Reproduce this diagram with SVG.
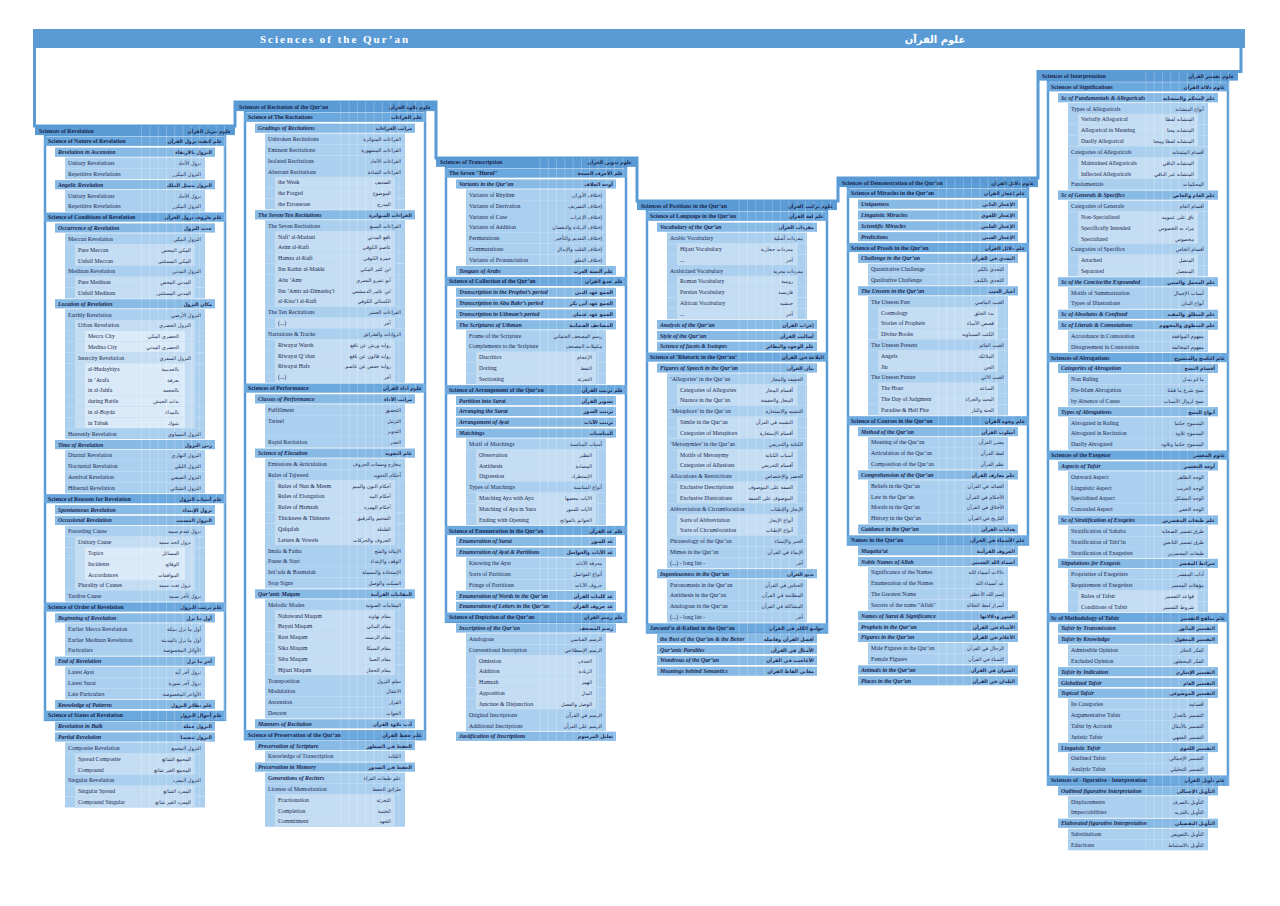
<svg xmlns="http://www.w3.org/2000/svg" xmlns:xlink="http://www.w3.org/1999/xlink" width="1280" height="906" viewBox="0 0 1280 906">
<style>
.en,.eb,.ei{font-family:"Liberation Serif","Times New Roman",serif;font-size:5.8px;fill:#18264f}
.eb{font-weight:bold}
.ei{font-weight:bold;font-style:italic}
.an,.ab{font-family:"DejaVu Sans",sans-serif;font-size:5px;fill:#18264f;text-anchor:end}
.ab{font-weight:bold;font-size:4.8px}
.k0{fill:#5b9bd5}.k1{fill:#6ba8de}.k2{fill:#88bae6}.k3{fill:#abcfee}.k4{fill:#c4ddf3}.k5{fill:#daeaf8}
.frame{fill:#fff;stroke:#5b9bd5;stroke-width:2.5}
.outline{fill:none;stroke:#5b9bd5;stroke-width:3}
.grid{fill:url(#gridp);pointer-events:none}
.tt{font-family:"Liberation Serif","Times New Roman",serif;font-size:11px;font-weight:bold;fill:#fff;letter-spacing:2px;text-anchor:middle}
.ta{font-family:"DejaVu Sans",sans-serif;font-size:10px;font-weight:bold;fill:#fff;text-anchor:middle}
</style>
<defs>
<pattern id="gridp" patternUnits="userSpaceOnUse" x="0" y="0" width="8.3" height="10">
<rect x="0" y="0" width="0.7" height="10" fill="#fff" fill-opacity="0.3"/>
</pattern>
<rect id="r0" class="k0" x="0" y="-4.6" width="200" height="9.2"/>
<rect id="r1" class="k1" x="9" y="-4.6" width="182" height="9.2"/>
<rect id="r2" class="k2" x="20" y="-4.6" width="160" height="9.2"/>
<rect id="r3" class="k3" x="30" y="-5.45" width="140" height="10.9"/>
<g id="c4"><use href="#r3"/><rect class="k4" x="40" y="-5.45" width="120" height="10.9"/></g>
<g id="c5"><use href="#c4"/><rect class="k5" x="50" y="-5.45" width="100" height="10.9"/></g>
</defs>
<rect width="1280" height="906" fill="#fff"/>
<g id="frames">
<polyline class="outline" points="34.5,48 34.5,126 235,126 235,102 436,102 436,158 637,158 637,201 838,201 838,178 1038,178 1038,71.5 1241,71.5 1241,48"/>
<rect class="frame" x="45" y="135.1" width="180" height="584.8"/>
<rect class="frame" x="245" y="111.1" width="180" height="628.1"/>
<rect class="frame" x="446" y="166.9" width="180" height="454.9"/>
<rect class="frame" x="647" y="210.1" width="180" height="422.4"/>
<rect class="frame" x="848" y="187.1" width="180" height="357.4"/>
<rect class="frame" x="1048" y="80.6" width="180" height="704"/>
</g>
<g id="title">
<rect x="33" y="29" width="1212" height="19" fill="#5b9bd5"/>
<text class="tt" x="335" y="43">Sciences of the Qur’an</text>
<text class="ta" x="935" y="42.5">علوم القرآن</text>
</g>
<g id="col1" transform="translate(35,130.5)">
<g transform="translate(0,0)"><use href="#r0"/><text class="eb" x="4" y="2">Sciences of Revelation</text><text class="ab" x="196" y="2">علوم تنزيل القرآن</text></g>
<g transform="translate(0,10.8)"><use href="#r1"/><text class="eb" x="13" y="2">Science of Nature of Revelation</text><text class="ab" x="187" y="2">علم كيفية نزول القرآن</text></g>
<g transform="translate(0,21.7)"><use href="#r2"/><text class="ei" x="23" y="2">Revelation in Ascension</text><text class="ab" x="177" y="2">النزول بالارتقاء</text></g>
<g transform="translate(0,32.5)"><use href="#r3"/><text class="en" x="33" y="2">Unitary Revelations</text><text class="an" x="166" y="2">نزول الأحاد</text></g>
<g transform="translate(0,43.3)"><use href="#r3"/><text class="en" x="33" y="2">Repetitive Revelations</text><text class="an" x="166" y="2">النزول المكرر</text></g>
<g transform="translate(0,54.2)"><use href="#r2"/><text class="ei" x="23" y="2">Angelic Revelation</text><text class="ab" x="177" y="2">النزول بتمثل الملك</text></g>
<g transform="translate(0,65)"><use href="#r3"/><text class="en" x="33" y="2">Unitary Revelations</text><text class="an" x="166" y="2">نزول الأحاد</text></g>
<g transform="translate(0,75.8)"><use href="#r3"/><text class="en" x="33" y="2">Repetitive Revelations</text><text class="an" x="166" y="2">النزول المكرر</text></g>
<g transform="translate(0,86.6)"><use href="#r1"/><text class="eb" x="13" y="2">Science of Conditions of Revelation</text><text class="ab" x="187" y="2">علم ظروف نزول القرآن</text></g>
<g transform="translate(0,97.5)"><use href="#r2"/><text class="ei" x="23" y="2">Occurrence of Revelation</text><text class="ab" x="177" y="2">حدث النزول</text></g>
<g transform="translate(0,108.3)"><use href="#r3"/><text class="en" x="33" y="2">Meccan Revelation</text><text class="an" x="166" y="2">النزول المكي</text></g>
<g transform="translate(0,119.1)"><use href="#c4"/><text class="en" x="43" y="2">Pure Meccan</text><text class="an" x="156" y="2">المكي المحض</text></g>
<g transform="translate(0,130)"><use href="#c4"/><text class="en" x="43" y="2">Unfull Meccan</text><text class="an" x="156" y="2">المكي المستثنى</text></g>
<g transform="translate(0,140.8)"><use href="#r3"/><text class="en" x="33" y="2">Medinan Revelation</text><text class="an" x="166" y="2">النزول المدني</text></g>
<g transform="translate(0,151.6)"><use href="#c4"/><text class="en" x="43" y="2">Pure Medinan</text><text class="an" x="156" y="2">المدني المحض</text></g>
<g transform="translate(0,162.5)"><use href="#c4"/><text class="en" x="43" y="2">Unfull Medinan</text><text class="an" x="156" y="2">المدني المستثنى</text></g>
<g transform="translate(0,173.3)"><use href="#r2"/><text class="ei" x="23" y="2">Location of Revelation</text><text class="ab" x="177" y="2">مكان النزول</text></g>
<g transform="translate(0,184.1)"><use href="#r3"/><text class="en" x="33" y="2">Earthly Revelation</text><text class="an" x="166" y="2">النزول الأرضي</text></g>
<g transform="translate(0,194.9)"><use href="#c4"/><text class="en" x="43" y="2">Urban Revelation</text><text class="an" x="156" y="2">النزول الحضري</text></g>
<g transform="translate(0,205.8)"><use href="#c5"/><text class="en" x="53" y="2">Mecca City</text><text class="an" x="144" y="2">الحضري المكي</text></g>
<g transform="translate(0,216.6)"><use href="#c5"/><text class="en" x="53" y="2">Medina City</text><text class="an" x="144" y="2">الحضري المدني</text></g>
<g transform="translate(0,227.4)"><use href="#c4"/><text class="en" x="43" y="2">Intercity Revelation</text><text class="an" x="156" y="2">النزول السفري</text></g>
<g transform="translate(0,238.3)"><use href="#c5"/><text class="en" x="53" y="2">al-Hudaybiya</text><text class="an" x="144" y="2">بالحديبية</text></g>
<g transform="translate(0,249.1)"><use href="#c5"/><text class="en" x="53" y="2">in ’Arafa</text><text class="an" x="144" y="2">بعرفة</text></g>
<g transform="translate(0,259.9)"><use href="#c5"/><text class="en" x="53" y="2">in al-Jahfa</text><text class="an" x="144" y="2">بالجحفة</text></g>
<g transform="translate(0,270.8)"><use href="#c5"/><text class="en" x="53" y="2">during Battle</text><text class="an" x="144" y="2">بذات الجيش</text></g>
<g transform="translate(0,281.6)"><use href="#c5"/><text class="en" x="53" y="2">in al-Bayda</text><text class="an" x="144" y="2">بالبيداء</text></g>
<g transform="translate(0,292.4)"><use href="#c5"/><text class="en" x="53" y="2">in Tabuk</text><text class="an" x="144" y="2">بتبوك</text></g>
<g transform="translate(0,303.2)"><use href="#r3"/><text class="en" x="33" y="2">Heavenly Revelation</text><text class="an" x="166" y="2">النزول السماوي</text></g>
<g transform="translate(0,314.1)"><use href="#r2"/><text class="ei" x="23" y="2">Time of Revelation</text><text class="ab" x="177" y="2">زمن النزول</text></g>
<g transform="translate(0,324.9)"><use href="#r3"/><text class="en" x="33" y="2">Diurnal Revelation</text><text class="an" x="166" y="2">النزول النهاري</text></g>
<g transform="translate(0,335.7)"><use href="#r3"/><text class="en" x="33" y="2">Nocturnal Revelation</text><text class="an" x="166" y="2">النزول الليلي</text></g>
<g transform="translate(0,346.6)"><use href="#r3"/><text class="en" x="33" y="2">Aestival Revelation</text><text class="an" x="166" y="2">النزول الصيفي</text></g>
<g transform="translate(0,357.4)"><use href="#r3"/><text class="en" x="33" y="2">Hibernal Revelation</text><text class="an" x="166" y="2">النزول الشتائي</text></g>
<g transform="translate(0,368.2)"><use href="#r1"/><text class="eb" x="13" y="2">Science of Reasons for Revelation</text><text class="ab" x="187" y="2">علم أسباب النزول</text></g>
<g transform="translate(0,379.1)"><use href="#r2"/><text class="ei" x="23" y="2">Spontaneous Revelation</text><text class="ab" x="177" y="2">نزول الإبتداء</text></g>
<g transform="translate(0,389.9)"><use href="#r2"/><text class="ei" x="23" y="2">Occasional Revelation</text><text class="ab" x="177" y="2">النزول المسبب</text></g>
<g transform="translate(0,400.7)"><use href="#r3"/><text class="en" x="33" y="2">Preceding Cause</text><text class="an" x="166" y="2">نزول تقدم سببه</text></g>
<g transform="translate(0,411.5)"><use href="#c4"/><text class="en" x="43" y="2">Unitary Cause</text><text class="an" x="156" y="2">نزول اتحد سببه</text></g>
<g transform="translate(0,422.4)"><use href="#c5"/><text class="en" x="53" y="2">Topics</text><text class="an" x="144" y="2">المسائل</text></g>
<g transform="translate(0,433.2)"><use href="#c5"/><text class="en" x="53" y="2">Incidents</text><text class="an" x="144" y="2">الوقائع</text></g>
<g transform="translate(0,444)"><use href="#c5"/><text class="en" x="53" y="2">Accordances</text><text class="an" x="144" y="2">الموافقات</text></g>
<g transform="translate(0,454.9)"><use href="#c4"/><text class="en" x="43" y="2">Plurality of Causes</text><text class="an" x="156" y="2">نزول تعدد سببه</text></g>
<g transform="translate(0,465.7)"><use href="#r3"/><text class="en" x="33" y="2">Tardive Cause</text><text class="an" x="166" y="2">نزول تأخر سببه</text></g>
<g transform="translate(0,476.5)"><use href="#r1"/><text class="eb" x="13" y="2">Science of Order of Revelation</text><text class="ab" x="187" y="2">علم ترتيب النزول</text></g>
<g transform="translate(0,487.4)"><use href="#r2"/><text class="ei" x="23" y="2">Beginning of Revelation</text><text class="ab" x="177" y="2">أول ما نزل</text></g>
<g transform="translate(0,498.2)"><use href="#r3"/><text class="en" x="33" y="2">Earlier Mecca Revelation</text><text class="an" x="166" y="2">أول ما نزل بمكة</text></g>
<g transform="translate(0,509)"><use href="#r3"/><text class="en" x="33" y="2">Earlier Medinan Revelation</text><text class="an" x="166" y="2">أول ما نزل بالمدينة</text></g>
<g transform="translate(0,519.8)"><use href="#r3"/><text class="en" x="33" y="2">Particulars</text><text class="an" x="166" y="2">الأوائل المخصوصة</text></g>
<g transform="translate(0,530.7)"><use href="#r2"/><text class="ei" x="23" y="2">End of Revelation</text><text class="ab" x="177" y="2">آخر ما نزل</text></g>
<g transform="translate(0,541.5)"><use href="#r3"/><text class="en" x="33" y="2">Latest Ayat</text><text class="an" x="166" y="2">نزول آخر آية</text></g>
<g transform="translate(0,552.3)"><use href="#r3"/><text class="en" x="33" y="2">Latest Surat</text><text class="an" x="166" y="2">نزول آخر سورة</text></g>
<g transform="translate(0,563.2)"><use href="#r3"/><text class="en" x="33" y="2">Late Particulars</text><text class="an" x="166" y="2">الأواخر المخصوصة</text></g>
<g transform="translate(0,574)"><use href="#r2"/><text class="ei" x="23" y="2">Knowledge of Patterns</text><text class="ab" x="177" y="2">علم نظائر النزول</text></g>
<g transform="translate(0,584.8)"><use href="#r1"/><text class="eb" x="13" y="2">Science of States of Revelation</text><text class="ab" x="187" y="2">علم أحوال النزول</text></g>
<g transform="translate(0,595.7)"><use href="#r2"/><text class="ei" x="23" y="2">Revelation in Bulk</text><text class="ab" x="177" y="2">النزول جملة</text></g>
<g transform="translate(0,606.5)"><use href="#r2"/><text class="ei" x="23" y="2">Partial Revelation</text><text class="ab" x="177" y="2">النزول تنجيما</text></g>
<g transform="translate(0,617.3)"><use href="#r3"/><text class="en" x="33" y="2">Composite Revelation</text><text class="an" x="166" y="2">النزول المجمع</text></g>
<g transform="translate(0,628.1)"><use href="#c4"/><text class="en" x="43" y="2">Spread Composite</text><text class="an" x="156" y="2">المجمع الشائع</text></g>
<g transform="translate(0,639)"><use href="#c4"/><text class="en" x="43" y="2">Compound</text><text class="an" x="156" y="2">المجمع الغير شائع</text></g>
<g transform="translate(0,649.8)"><use href="#r3"/><text class="en" x="33" y="2">Singular Revelation</text><text class="an" x="166" y="2">النزول المفرد</text></g>
<g transform="translate(0,660.6)"><use href="#c4"/><text class="en" x="43" y="2">Singular Spread</text><text class="an" x="156" y="2">المفرد الشائع</text></g>
<g transform="translate(0,671.5)"><use href="#c4"/><text class="en" x="43" y="2">Compound Singular</text><text class="an" x="156" y="2">المفرد الغير شائع</text></g>
</g>
<g id="col2" transform="translate(235,106.5)">
<g transform="translate(0,0)"><use href="#r0"/><text class="eb" x="4" y="2">Sciences of Recitation of the Qur’an</text><text class="ab" x="196" y="2">علوم تلاوة القرآن</text></g>
<g transform="translate(0,10.8)"><use href="#r1"/><text class="eb" x="13" y="2">Science of The Recitations</text><text class="ab" x="187" y="2">علم القراءات</text></g>
<g transform="translate(0,21.7)"><use href="#r2"/><text class="ei" x="23" y="2">Gradings of Recitations</text><text class="ab" x="177" y="2">مراتب القراءات</text></g>
<g transform="translate(0,32.5)"><use href="#r3"/><text class="en" x="33" y="2">Unbroken Recitations</text><text class="an" x="166" y="2">القراءات المتواترة</text></g>
<g transform="translate(0,43.3)"><use href="#r3"/><text class="en" x="33" y="2">Eminent Recitations</text><text class="an" x="166" y="2">القراءات المشهورة</text></g>
<g transform="translate(0,54.2)"><use href="#r3"/><text class="en" x="33" y="2">Isolated Recitations</text><text class="an" x="166" y="2">القراءات الآحاد</text></g>
<g transform="translate(0,65)"><use href="#r3"/><text class="en" x="33" y="2">Aberrant Recitations</text><text class="an" x="166" y="2">القراءات الشاذة</text></g>
<g transform="translate(0,75.8)"><use href="#c4"/><text class="en" x="43" y="2">the Weak</text><text class="an" x="156" y="2">الضعيف</text></g>
<g transform="translate(0,86.6)"><use href="#c4"/><text class="en" x="43" y="2">the Forged</text><text class="an" x="156" y="2">الموضوع</text></g>
<g transform="translate(0,97.5)"><use href="#c4"/><text class="en" x="43" y="2">the Erroneous</text><text class="an" x="156" y="2">المدرج</text></g>
<g transform="translate(0,108.3)"><use href="#r2"/><text class="ei" x="23" y="2">The Seven/Ten Recitations</text><text class="ab" x="177" y="2">القراءات المتواترة</text></g>
<g transform="translate(0,119.1)"><use href="#r3"/><text class="en" x="33" y="2">The Seven Recitations</text><text class="an" x="166" y="2">القراءات السبع</text></g>
<g transform="translate(0,130)"><use href="#c4"/><text class="en" x="43" y="2">Nafi’ al-Madani</text><text class="an" x="156" y="2">نافع المدني</text></g>
<g transform="translate(0,140.8)"><use href="#c4"/><text class="en" x="43" y="2">Asim al-Kufi</text><text class="an" x="156" y="2">عاصم الكوفي</text></g>
<g transform="translate(0,151.6)"><use href="#c4"/><text class="en" x="43" y="2">Hamza al-Kufi</text><text class="an" x="156" y="2">حمزة الكوفي</text></g>
<g transform="translate(0,162.5)"><use href="#c4"/><text class="en" x="43" y="2">Ibn Kathir al-Makki</text><text class="an" x="156" y="2">ابن كثير المكي</text></g>
<g transform="translate(0,173.3)"><use href="#c4"/><text class="en" x="43" y="2">Abu ’Amr</text><text class="an" x="156" y="2">أبو عمرو البصري</text></g>
<g transform="translate(0,184.1)"><use href="#c4"/><text class="en" x="43" y="2">Ibn ’Amir ad-Dimashq’i</text><text class="an" x="156" y="2">ابن عامر الدمشقي</text></g>
<g transform="translate(0,194.9)"><use href="#c4"/><text class="en" x="43" y="2">al-Kisa’i al-Kufi</text><text class="an" x="156" y="2">الكسائي الكوفي</text></g>
<g transform="translate(0,205.8)"><use href="#r3"/><text class="en" x="33" y="2">The Ten Recitations</text><text class="an" x="166" y="2">القراءات العشر</text></g>
<g transform="translate(0,216.6)"><use href="#c4"/><text class="en" x="43" y="2">(...)</text><text class="an" x="156" y="2">آخر</text></g>
<g transform="translate(0,227.4)"><use href="#r3"/><text class="en" x="33" y="2">Narrations &amp; Tracks</text><text class="an" x="166" y="2">الروايات والطرائق</text></g>
<g transform="translate(0,238.3)"><use href="#c4"/><text class="en" x="43" y="2">Riwayat Warsh</text><text class="an" x="156" y="2">رواية ورش عن نافع</text></g>
<g transform="translate(0,249.1)"><use href="#c4"/><text class="en" x="43" y="2">Riwayat Q’alun</text><text class="an" x="156" y="2">رواية قالون عن نافع</text></g>
<g transform="translate(0,259.9)"><use href="#c4"/><text class="en" x="43" y="2">Riwayat Hafs</text><text class="an" x="156" y="2">رواية حفص عن عاصم</text></g>
<g transform="translate(0,270.8)"><use href="#c4"/><text class="en" x="43" y="2">(...)</text><text class="an" x="156" y="2">آخر</text></g>
<g transform="translate(0,281.6)"><use href="#r1"/><text class="eb" x="13" y="2">Sciences of Performance</text><text class="ab" x="187" y="2">علوم أداء القرآن</text></g>
<g transform="translate(0,292.4)"><use href="#r2"/><text class="ei" x="23" y="2">Classes of Performance</text><text class="ab" x="177" y="2">مراتب الأداء</text></g>
<g transform="translate(0,303.2)"><use href="#r3"/><text class="en" x="33" y="2">Fulfillment</text><text class="an" x="166" y="2">التحقيق</text></g>
<g transform="translate(0,314.1)"><use href="#r3"/><text class="en" x="33" y="2">Tarteel</text><text class="an" x="166" y="2">الترتيل</text></g>
<g transform="translate(0,324.9)"><use href="#r3"/><text class="an" x="166" y="2">التدوير</text></g>
<g transform="translate(0,335.7)"><use href="#r3"/><text class="en" x="33" y="2">Rapid Recitation</text><text class="an" x="166" y="2">الحدر</text></g>
<g transform="translate(0,346.6)"><use href="#r2"/><text class="ei" x="23" y="2">Science of Elocution</text><text class="ab" x="177" y="2">علم التجويد</text></g>
<g transform="translate(0,357.4)"><use href="#r3"/><text class="en" x="33" y="2">Emissions &amp; Articulation</text><text class="an" x="166" y="2">مخارج وصفات الحروف</text></g>
<g transform="translate(0,368.2)"><use href="#r3"/><text class="en" x="33" y="2">Rules of Tajweed</text><text class="an" x="166" y="2">أحكام التجويد</text></g>
<g transform="translate(0,379.1)"><use href="#c4"/><text class="en" x="43" y="2">Rules of Nun &amp; Meem</text><text class="an" x="156" y="2">أحكام النون والميم</text></g>
<g transform="translate(0,389.9)"><use href="#c4"/><text class="en" x="43" y="2">Rules of Elongation</text><text class="an" x="156" y="2">أحكام المد</text></g>
<g transform="translate(0,400.7)"><use href="#c4"/><text class="en" x="43" y="2">Rules of Hamzah</text><text class="an" x="156" y="2">أحكام الهمزة</text></g>
<g transform="translate(0,411.5)"><use href="#c4"/><text class="en" x="43" y="2">Thickness &amp; Thinness</text><text class="an" x="156" y="2">التفخيم والترقيق</text></g>
<g transform="translate(0,422.4)"><use href="#c4"/><text class="en" x="43" y="2">Qalqalah</text><text class="an" x="156" y="2">القلقلة</text></g>
<g transform="translate(0,433.2)"><use href="#c4"/><text class="en" x="43" y="2">Letters &amp; Vowels</text><text class="an" x="156" y="2">الحروف والحركات</text></g>
<g transform="translate(0,444)"><use href="#r3"/><text class="en" x="33" y="2">Imala &amp; Fatha</text><text class="an" x="166" y="2">الإمالة والفتح</text></g>
<g transform="translate(0,454.9)"><use href="#r3"/><text class="en" x="33" y="2">Pause &amp; Start</text><text class="an" x="166" y="2">الوقف والإبتداء</text></g>
<g transform="translate(0,465.7)"><use href="#r3"/><text class="en" x="33" y="2">Isti’ada &amp; Basmalah</text><text class="an" x="166" y="2">الإستعاذة والبسملة</text></g>
<g transform="translate(0,476.5)"><use href="#r3"/><text class="en" x="33" y="2">Stop Signs</text><text class="an" x="166" y="2">السكت والوصل</text></g>
<g transform="translate(0,487.4)"><use href="#r2"/><text class="ei" x="23" y="2">Qur’anic Maqam</text><text class="ab" x="177" y="2">المقامات القرآنية</text></g>
<g transform="translate(0,498.2)"><use href="#r3"/><text class="en" x="33" y="2">Melodic Modes</text><text class="an" x="166" y="2">المقامات الصوتية</text></g>
<g transform="translate(0,509)"><use href="#c4"/><text class="en" x="43" y="2">Nahawand Maqam</text><text class="an" x="156" y="2">مقام نهاوند</text></g>
<g transform="translate(0,519.8)"><use href="#c4"/><text class="en" x="43" y="2">Bayati Maqam</text><text class="an" x="156" y="2">مقام البياتي</text></g>
<g transform="translate(0,530.7)"><use href="#c4"/><text class="en" x="43" y="2">Rast Maqam</text><text class="an" x="156" y="2">مقام الرست</text></g>
<g transform="translate(0,541.5)"><use href="#c4"/><text class="en" x="43" y="2">Sika Maqam</text><text class="an" x="156" y="2">مقام السيكا</text></g>
<g transform="translate(0,552.3)"><use href="#c4"/><text class="en" x="43" y="2">Siba Maqam</text><text class="an" x="156" y="2">مقام الصبا</text></g>
<g transform="translate(0,563.2)"><use href="#c4"/><text class="en" x="43" y="2">Hijazi Maqam</text><text class="an" x="156" y="2">مقام الحجاز</text></g>
<g transform="translate(0,574)"><use href="#r3"/><text class="en" x="33" y="2">Transposition</text><text class="an" x="166" y="2">سلم النزول</text></g>
<g transform="translate(0,584.8)"><use href="#r3"/><text class="en" x="33" y="2">Modulation</text><text class="an" x="166" y="2">الانتقال</text></g>
<g transform="translate(0,595.7)"><use href="#r3"/><text class="en" x="33" y="2">Ascension</text><text class="an" x="166" y="2">القرار</text></g>
<g transform="translate(0,606.5)"><use href="#r3"/><text class="en" x="33" y="2">Descent</text><text class="an" x="166" y="2">الجواب</text></g>
<g transform="translate(0,617.3)"><use href="#r2"/><text class="ei" x="23" y="2">Manners of Recitation</text><text class="ab" x="177" y="2">أدب تلاوة القرآن</text></g>
<g transform="translate(0,628.1)"><use href="#r1"/><text class="eb" x="13" y="2">Science of Preservation of the Qur’an</text><text class="ab" x="187" y="2">علم حفظ القرآن</text></g>
<g transform="translate(0,639)"><use href="#r2"/><text class="ei" x="23" y="2">Preservation of Scripture</text><text class="ab" x="177" y="2">الحفظ في السطور</text></g>
<g transform="translate(0,649.8)"><use href="#r3"/><text class="en" x="33" y="2">Knowledge of Transcription</text><text class="an" x="166" y="2">الكتابة</text></g>
<g transform="translate(0,660.6)"><use href="#r2"/><text class="ei" x="23" y="2">Preservation in Memory</text><text class="ab" x="177" y="2">الحفظ في الصدور</text></g>
<g transform="translate(0,671.5)"><use href="#r3"/><text class="ei" x="33" y="2">Generations of Reciters</text><text class="an" x="166" y="2">علم طبقات القراء</text></g>
<g transform="translate(0,682.3)"><use href="#r3"/><text class="en" x="33" y="2">License of Memorization</text><text class="an" x="166" y="2">طرائق الحفظ</text></g>
<g transform="translate(0,693.1)"><use href="#c4"/><text class="en" x="43" y="2">Fractionation</text><text class="an" x="156" y="2">التجزئة</text></g>
<g transform="translate(0,704)"><use href="#c4"/><text class="en" x="43" y="2">Completion</text><text class="an" x="156" y="2">الختمة</text></g>
<g transform="translate(0,714.8)"><use href="#c4"/><text class="en" x="43" y="2">Commitment</text><text class="an" x="156" y="2">التعهد</text></g>
</g>
<g id="col3" transform="translate(436,162.3)">
<g transform="translate(0,0)"><use href="#r0"/><text class="eb" x="4" y="2">Sciences of Transcription</text><text class="ab" x="196" y="2">علوم تدوين القرآن</text></g>
<g transform="translate(0,10.8)"><use href="#r1"/><text class="eb" x="13" y="2">The Seven "Huruf"</text><text class="ab" x="187" y="2">علم الأحرف السبعة</text></g>
<g transform="translate(0,21.7)"><use href="#r2"/><text class="ei" x="23" y="2">Variants in the Qur’an</text><text class="ab" x="177" y="2">أوجه الخلاف</text></g>
<g transform="translate(0,32.5)"><use href="#r3"/><text class="en" x="33" y="2">Variants of Rhythm</text><text class="an" x="166" y="2">إختلاف الأوزان</text></g>
<g transform="translate(0,43.3)"><use href="#r3"/><text class="en" x="33" y="2">Variants of Derivation</text><text class="an" x="166" y="2">إختلاف التصريف</text></g>
<g transform="translate(0,54.2)"><use href="#r3"/><text class="en" x="33" y="2">Variants of Case</text><text class="an" x="166" y="2">إختلاف الإعراب</text></g>
<g transform="translate(0,65)"><use href="#r3"/><text class="en" x="33" y="2">Variants of Addition</text><text class="an" x="166" y="2">إختلاف الزيادة والنقصان</text></g>
<g transform="translate(0,75.8)"><use href="#r3"/><text class="en" x="33" y="2">Permutations</text><text class="an" x="166" y="2">إختلاف التقديم والتأخير</text></g>
<g transform="translate(0,86.6)"><use href="#r3"/><text class="en" x="33" y="2">Commutations</text><text class="an" x="166" y="2">إختلاف القلب والإبدال</text></g>
<g transform="translate(0,97.5)"><use href="#r3"/><text class="en" x="33" y="2">Variants of Pronunciation</text><text class="an" x="166" y="2">إختلاف النطق</text></g>
<g transform="translate(0,108.3)"><use href="#r2"/><text class="ei" x="23" y="2">Tongues of Arabs</text><text class="ab" x="177" y="2">علم ألسنة العرب</text></g>
<g transform="translate(0,119.1)"><use href="#r1"/><text class="eb" x="13" y="2">Science of Collection of the Qur’an</text><text class="ab" x="187" y="2">علم جمع القرآن</text></g>
<g transform="translate(0,130)"><use href="#r2"/><text class="ei" x="23" y="2">Transcription in the Prophet’s period</text><text class="ab" x="177" y="2">الجمع عهد النبي</text></g>
<g transform="translate(0,140.8)"><use href="#r2"/><text class="ei" x="23" y="2">Transcription in Abu Bakr’s period</text><text class="ab" x="177" y="2">الجمع عهد أبي بكر</text></g>
<g transform="translate(0,151.6)"><use href="#r2"/><text class="ei" x="23" y="2">Transcription in Uthman’s period</text><text class="ab" x="177" y="2">الجمع عهد عثمان</text></g>
<g transform="translate(0,162.5)"><use href="#r2"/><text class="ei" x="23" y="2">The Scriptures of Uthman</text><text class="ab" x="177" y="2">المصاحف العثمانية</text></g>
<g transform="translate(0,173.3)"><use href="#r3"/><text class="en" x="33" y="2">Frame of the Scripture</text><text class="an" x="166" y="2">رسم المصحف العثماني</text></g>
<g transform="translate(0,184.1)"><use href="#r3"/><text class="en" x="33" y="2">Complements to the Scripture</text><text class="an" x="166" y="2">مكملات المصحف</text></g>
<g transform="translate(0,194.9)"><use href="#c4"/><text class="en" x="43" y="2">Diacritics</text><text class="an" x="156" y="2">الإعجام</text></g>
<g transform="translate(0,205.8)"><use href="#c4"/><text class="en" x="43" y="2">Dotting</text><text class="an" x="156" y="2">النقط</text></g>
<g transform="translate(0,216.6)"><use href="#c4"/><text class="en" x="43" y="2">Sectioning</text><text class="an" x="156" y="2">التجزئة</text></g>
<g transform="translate(0,227.4)"><use href="#r1"/><text class="eb" x="13" y="2">Science of Arrangement of the Qur’an</text><text class="ab" x="187" y="2">علم ترتيب القرآن</text></g>
<g transform="translate(0,238.3)"><use href="#r2"/><text class="ei" x="23" y="2">Partition into Surat</text><text class="ab" x="177" y="2">تسوير القرآن</text></g>
<g transform="translate(0,249.1)"><use href="#r2"/><text class="ei" x="23" y="2">Arranging the Surat</text><text class="ab" x="177" y="2">ترتيب السور</text></g>
<g transform="translate(0,259.9)"><use href="#r2"/><text class="ei" x="23" y="2">Arrangement of Ayat</text><text class="ab" x="177" y="2">ترتيب الآيات</text></g>
<g transform="translate(0,270.8)"><use href="#r2"/><text class="ei" x="23" y="2">Matchings</text><text class="ab" x="177" y="2">المناسبات</text></g>
<g transform="translate(0,281.6)"><use href="#r3"/><text class="en" x="33" y="2">Motif of Matchings</text><text class="an" x="166" y="2">أسباب المناسبة</text></g>
<g transform="translate(0,292.4)"><use href="#c4"/><text class="en" x="43" y="2">Observation</text><text class="an" x="156" y="2">النظير</text></g>
<g transform="translate(0,303.2)"><use href="#c4"/><text class="en" x="43" y="2">Antithesis</text><text class="an" x="156" y="2">المضادة</text></g>
<g transform="translate(0,314.1)"><use href="#c4"/><text class="en" x="43" y="2">Digression</text><text class="an" x="156" y="2">الإستطراد</text></g>
<g transform="translate(0,324.9)"><use href="#r3"/><text class="en" x="33" y="2">Types of Matchings</text><text class="an" x="166" y="2">أنواع المناسبة</text></g>
<g transform="translate(0,335.7)"><use href="#c4"/><text class="en" x="43" y="2">Matching Aya with Aya</text><text class="an" x="156" y="2">الآيات ببعضها</text></g>
<g transform="translate(0,346.6)"><use href="#c4"/><text class="en" x="43" y="2">Matching of Aya in Sura</text><text class="an" x="156" y="2">الآيات للسور</text></g>
<g transform="translate(0,357.4)"><use href="#c4"/><text class="en" x="43" y="2">Ending with Opening</text><text class="an" x="156" y="2">الخواتم بالفواتح</text></g>
<g transform="translate(0,368.2)"><use href="#r1"/><text class="eb" x="13" y="2">Science of Enumeration in the Qur’an</text><text class="ab" x="187" y="2">علم عد القرآن</text></g>
<g transform="translate(0,379.1)"><use href="#r2"/><text class="ei" x="23" y="2">Enumeration of Surat</text><text class="ab" x="177" y="2">عد السور</text></g>
<g transform="translate(0,389.9)"><use href="#r2"/><text class="ei" x="23" y="2">Enumeration of Ayat &amp; Partitions</text><text class="ab" x="177" y="2">عد الآيات والفواصل</text></g>
<g transform="translate(0,400.7)"><use href="#r3"/><text class="en" x="33" y="2">Knowing the Ayat</text><text class="an" x="166" y="2">معرفة الآيات</text></g>
<g transform="translate(0,411.5)"><use href="#r3"/><text class="en" x="33" y="2">Sorts of Partitions</text><text class="an" x="166" y="2">أنواع الفواصل</text></g>
<g transform="translate(0,422.4)"><use href="#r3"/><text class="en" x="33" y="2">Fringe of Partitions</text><text class="an" x="166" y="2">حروف الآيات</text></g>
<g transform="translate(0,433.2)"><use href="#r2"/><text class="ei" x="23" y="2">Enumeration of Words in the Qur’an</text><text class="ab" x="177" y="2">عد كلمات القرآن</text></g>
<g transform="translate(0,444)"><use href="#r2"/><text class="ei" x="23" y="2">Enumeration of Letters in the Qur’an</text><text class="ab" x="177" y="2">عد حروف القرآن</text></g>
<g transform="translate(0,454.9)"><use href="#r1"/><text class="eb" x="13" y="2">Science of Depiction of the Qur’an</text><text class="ab" x="187" y="2">علم رسم القرآن</text></g>
<g transform="translate(0,465.7)"><use href="#r2"/><text class="ei" x="23" y="2">Inscription of the Qur’an</text><text class="ab" x="177" y="2">رسم المصحف</text></g>
<g transform="translate(0,476.5)"><use href="#r3"/><text class="en" x="33" y="2">Analogous</text><text class="an" x="166" y="2">الرسم القياسي</text></g>
<g transform="translate(0,487.4)"><use href="#r3"/><text class="en" x="33" y="2">Conventional Inscription</text><text class="an" x="166" y="2">الرسم الإصطلاحي</text></g>
<g transform="translate(0,498.2)"><use href="#c4"/><text class="en" x="43" y="2">Omission</text><text class="an" x="156" y="2">الحذف</text></g>
<g transform="translate(0,509)"><use href="#c4"/><text class="en" x="43" y="2">Addition</text><text class="an" x="156" y="2">الزيادة</text></g>
<g transform="translate(0,519.8)"><use href="#c4"/><text class="en" x="43" y="2">Hamzah</text><text class="an" x="156" y="2">الهمز</text></g>
<g transform="translate(0,530.7)"><use href="#c4"/><text class="en" x="43" y="2">Apposition</text><text class="an" x="156" y="2">البدل</text></g>
<g transform="translate(0,541.5)"><use href="#c4"/><text class="en" x="43" y="2">Juncture &amp; Disjunction</text><text class="an" x="156" y="2">الوصل والفصل</text></g>
<g transform="translate(0,552.3)"><use href="#r3"/><text class="en" x="33" y="2">Original Inscriptions</text><text class="an" x="166" y="2">الرسم في القرآن</text></g>
<g transform="translate(0,563.2)"><use href="#r3"/><text class="en" x="33" y="2">Additional Inscriptions</text><text class="an" x="166" y="2">الرسم على القرآن</text></g>
<g transform="translate(0,574)"><use href="#r2"/><text class="ei" x="23" y="2">Justification of Inscriptions</text><text class="ab" x="177" y="2">تعليل المرسوم</text></g>
</g>
<g id="col4" transform="translate(637,205.5)">
<g transform="translate(0,0)"><use href="#r0"/><text class="eb" x="4" y="2">Sciences of Positions in the Qur’an</text><text class="ab" x="196" y="2">علوم تركيب القرآن</text></g>
<g transform="translate(0,10.8)"><use href="#r1"/><text class="eb" x="13" y="2">Science of Language in the Qur’an</text><text class="ab" x="187" y="2">علم لغة القرآن</text></g>
<g transform="translate(0,21.7)"><use href="#r2"/><text class="ei" x="23" y="2">Vocabulary of the Qur’an</text><text class="ab" x="177" y="2">مفردات القرآن</text></g>
<g transform="translate(0,32.5)"><use href="#r3"/><text class="en" x="33" y="2">Arabic Vocabulary</text><text class="an" x="166" y="2">مفردات أصلية</text></g>
<g transform="translate(0,43.3)"><use href="#c4"/><text class="en" x="43" y="2">Hijazi Vocabulary</text><text class="an" x="156" y="2">مفردات حجازية</text></g>
<g transform="translate(0,54.2)"><use href="#c4"/><text class="en" x="43" y="2">...</text><text class="an" x="156" y="2">آخر</text></g>
<g transform="translate(0,65)"><use href="#r3"/><text class="en" x="33" y="2">Arabicized Vocabulary</text><text class="an" x="166" y="2">مفردات معربة</text></g>
<g transform="translate(0,75.8)"><use href="#c4"/><text class="en" x="43" y="2">Roman Vocabulary</text><text class="an" x="156" y="2">رومية</text></g>
<g transform="translate(0,86.6)"><use href="#c4"/><text class="en" x="43" y="2">Persian Vocabulary</text><text class="an" x="156" y="2">فارسية</text></g>
<g transform="translate(0,97.5)"><use href="#c4"/><text class="en" x="43" y="2">African Vocabulary</text><text class="an" x="156" y="2">حبشية</text></g>
<g transform="translate(0,108.3)"><use href="#c4"/><text class="en" x="43" y="2">...</text><text class="an" x="156" y="2">آخر</text></g>
<g transform="translate(0,119.1)"><use href="#r2"/><text class="ei" x="23" y="2">Analysis of the Qur’an</text><text class="ab" x="177" y="2">إعراب القرآن</text></g>
<g transform="translate(0,130)"><use href="#r2"/><text class="ei" x="23" y="2">Style of the Qur’an</text><text class="ab" x="177" y="2">أساليب القرآن</text></g>
<g transform="translate(0,140.8)"><use href="#r2"/><text class="ei" x="23" y="2">Science of facets &amp; Isotopes</text><text class="ab" x="177" y="2">علم الوجوه والنظائر</text></g>
<g transform="translate(0,151.6)"><use href="#r1"/><text class="eb" x="13" y="2">Science of ’Rhetoric in the Qur’an’</text><text class="ab" x="187" y="2">البلاغة في القرآن</text></g>
<g transform="translate(0,162.5)"><use href="#r2"/><text class="ei" x="23" y="2">Figures of Speech in the Qur’an</text><text class="ab" x="177" y="2">بيان القرآن</text></g>
<g transform="translate(0,173.3)"><use href="#r3"/><text class="en" x="33" y="2">’Allegories’ in the Qur’an</text><text class="an" x="166" y="2">الحقيقة والمجاز</text></g>
<g transform="translate(0,184.1)"><use href="#c4"/><text class="en" x="43" y="2">Categories of Allegories</text><text class="an" x="156" y="2">أقسام المجاز</text></g>
<g transform="translate(0,194.9)"><use href="#c4"/><text class="en" x="43" y="2">Nuance in the Qur’an</text><text class="an" x="156" y="2">المجاز والحقيقة</text></g>
<g transform="translate(0,205.8)"><use href="#r3"/><text class="en" x="33" y="2">’Metaphors’ in the Qur’an</text><text class="an" x="166" y="2">التشبيه والإستعارة</text></g>
<g transform="translate(0,216.6)"><use href="#c4"/><text class="en" x="43" y="2">Simile in the Qur’an</text><text class="an" x="156" y="2">التشبيه في القرآن</text></g>
<g transform="translate(0,227.4)"><use href="#c4"/><text class="en" x="43" y="2">Categories of Metaphors</text><text class="an" x="156" y="2">أقسام الإستعارة</text></g>
<g transform="translate(0,238.3)"><use href="#r3"/><text class="en" x="33" y="2">’Metonymies’ in the Qur’an</text><text class="an" x="166" y="2">الكناية والتعريض</text></g>
<g transform="translate(0,249.1)"><use href="#c4"/><text class="en" x="43" y="2">Motifs of Metonymy</text><text class="an" x="156" y="2">أسباب الكناية</text></g>
<g transform="translate(0,259.9)"><use href="#c4"/><text class="en" x="43" y="2">Categories of Allusions</text><text class="an" x="156" y="2">أقسام التعريض</text></g>
<g transform="translate(0,270.8)"><use href="#r3"/><text class="en" x="33" y="2">Allocations &amp; Restrictions</text><text class="an" x="166" y="2">الحصر والإختصاص</text></g>
<g transform="translate(0,281.6)"><use href="#c4"/><text class="en" x="43" y="2">Exclusive Descriptions</text><text class="an" x="156" y="2">الصفة على الموصوف</text></g>
<g transform="translate(0,292.4)"><use href="#c4"/><text class="en" x="43" y="2">Exclusive Illustrations</text><text class="an" x="156" y="2">الموصوف على الصفة</text></g>
<g transform="translate(0,303.2)"><use href="#r3"/><text class="en" x="33" y="2">Abbreviation &amp; Circumlocution</text><text class="an" x="166" y="2">الإيجاز والإطناب</text></g>
<g transform="translate(0,314.1)"><use href="#c4"/><text class="en" x="43" y="2">Sorts of Abbreviation</text><text class="an" x="156" y="2">أنواع الإيجاز</text></g>
<g transform="translate(0,324.9)"><use href="#c4"/><text class="en" x="43" y="2">Sorts of Circumlocution</text><text class="an" x="156" y="2">أنواع الإطناب</text></g>
<g transform="translate(0,335.7)"><use href="#r3"/><text class="en" x="33" y="2">Phraseology of the Qur’an</text><text class="an" x="166" y="2">الخبر والإنشاء</text></g>
<g transform="translate(0,346.6)"><use href="#r3"/><text class="en" x="33" y="2">Mimes in the Qur’an</text><text class="an" x="166" y="2">الإيماء في القرآن</text></g>
<g transform="translate(0,357.4)"><use href="#r3"/><text class="en" x="33" y="2">(...) - long list -</text><text class="an" x="166" y="2">آخر</text></g>
<g transform="translate(0,368.2)"><use href="#r2"/><text class="ei" x="23" y="2">Ingeniousness in the Qur’an</text><text class="ab" x="177" y="2">بديع القرآن</text></g>
<g transform="translate(0,379.1)"><use href="#r3"/><text class="en" x="33" y="2">Paronomasia in the Qur’an</text><text class="an" x="166" y="2">الجناس في القرآن</text></g>
<g transform="translate(0,389.9)"><use href="#r3"/><text class="en" x="33" y="2">Antithesis in the Qur’an</text><text class="an" x="166" y="2">المطابقة في القرآن</text></g>
<g transform="translate(0,400.7)"><use href="#r3"/><text class="en" x="33" y="2">Analogous in the Qur’an</text><text class="an" x="166" y="2">المشاكلة في القرآن</text></g>
<g transform="translate(0,411.5)"><use href="#r3"/><text class="en" x="33" y="2">(...) - long list -</text><text class="an" x="166" y="2">آخر</text></g>
<g transform="translate(0,422.4)"><use href="#r1"/><text class="eb" x="13" y="2">Jawami’u al-Kalimi in the Qur’an</text><text class="ab" x="187" y="2">جوامع الكلم في القرآن</text></g>
<g transform="translate(0,433.2)"><use href="#r2"/><text class="ei" x="23" y="2">the Best of the Qur’an &amp; the Better</text><text class="ab" x="177" y="2">أفضل القرآن وفاضله</text></g>
<g transform="translate(0,444)"><use href="#r2"/><text class="ei" x="23" y="2">Qur’anic Parables</text><text class="ab" x="177" y="2">الأمثال في القرآن</text></g>
<g transform="translate(0,454.9)"><use href="#r2"/><text class="ei" x="23" y="2">Wondrous of the Qur’an</text><text class="ab" x="177" y="2">الأعاجيب في القرآن</text></g>
<g transform="translate(0,465.7)"><use href="#r2"/><text class="ei" x="23" y="2">Meanings behind Semantics</text><text class="ab" x="177" y="2">معاني ألفاظ القرآن</text></g>
</g>
<g id="col5" transform="translate(838,182.5)">
<g transform="translate(0,0)"><use href="#r0"/><text class="eb" x="4" y="2">Sciences of Demonstration of the Qur’an</text><text class="ab" x="196" y="2">علوم دلائل القرآن</text></g>
<g transform="translate(0,10.8)"><use href="#r1"/><text class="eb" x="13" y="2">Science of Miracles in the Qur’an</text><text class="ab" x="187" y="2">علم إعجاز القرآن</text></g>
<g transform="translate(0,21.7)"><use href="#r2"/><text class="ei" x="23" y="2">Uniqueness</text><text class="ab" x="177" y="2">الإعجاز الذاتي</text></g>
<g transform="translate(0,32.5)"><use href="#r2"/><text class="ei" x="23" y="2">Linguistic Miracles</text><text class="ab" x="177" y="2">الإعجاز اللغوي</text></g>
<g transform="translate(0,43.3)"><use href="#r2"/><text class="ei" x="23" y="2">Scientific Miracles</text><text class="ab" x="177" y="2">الإعجاز العلمي</text></g>
<g transform="translate(0,54.2)"><use href="#r2"/><text class="ei" x="23" y="2">Predictions</text><text class="ab" x="177" y="2">الإعجاز الغيبي</text></g>
<g transform="translate(0,65)"><use href="#r1"/><text class="eb" x="13" y="2">Science of Proofs in the Qur’an</text><text class="ab" x="187" y="2">علم دلائل القرآن</text></g>
<g transform="translate(0,75.8)"><use href="#r2"/><text class="ei" x="23" y="2">Challenge in the Qur’an</text><text class="ab" x="177" y="2">التحدي في القرآن</text></g>
<g transform="translate(0,86.6)"><use href="#r3"/><text class="en" x="33" y="2">Quantitative Challenge</text><text class="an" x="166" y="2">التحدي بالكم</text></g>
<g transform="translate(0,97.5)"><use href="#r3"/><text class="en" x="33" y="2">Qualitative Challenge</text><text class="an" x="166" y="2">التحدي بالكيف</text></g>
<g transform="translate(0,108.3)"><use href="#r2"/><text class="ei" x="23" y="2">The Unseen in the Qur’an</text><text class="ab" x="177" y="2">أخبار الغيب</text></g>
<g transform="translate(0,119.1)"><use href="#r3"/><text class="en" x="33" y="2">The Unseen Past</text><text class="an" x="166" y="2">الغيب الماضي</text></g>
<g transform="translate(0,130)"><use href="#c4"/><text class="en" x="43" y="2">Cosmology</text><text class="an" x="156" y="2">بدء الخلق</text></g>
<g transform="translate(0,140.8)"><use href="#c4"/><text class="en" x="43" y="2">Stories of Prophets</text><text class="an" x="156" y="2">قصص الأنبياء</text></g>
<g transform="translate(0,151.6)"><use href="#c4"/><text class="en" x="43" y="2">Divine Books</text><text class="an" x="156" y="2">الكتب السماوية</text></g>
<g transform="translate(0,162.5)"><use href="#r3"/><text class="en" x="33" y="2">The Unseen Present</text><text class="an" x="166" y="2">الغيب القائم</text></g>
<g transform="translate(0,173.3)"><use href="#c4"/><text class="en" x="43" y="2">Angels</text><text class="an" x="156" y="2">الملائكة</text></g>
<g transform="translate(0,184.1)"><use href="#c4"/><text class="en" x="43" y="2">Jin</text><text class="an" x="156" y="2">الجن</text></g>
<g transform="translate(0,194.9)"><use href="#r3"/><text class="en" x="33" y="2">The Unseen Future</text><text class="an" x="166" y="2">الغيب الآتي</text></g>
<g transform="translate(0,205.8)"><use href="#c4"/><text class="en" x="43" y="2">The Hour</text><text class="an" x="156" y="2">الساعة</text></g>
<g transform="translate(0,216.6)"><use href="#c4"/><text class="en" x="43" y="2">The Day of Judgment</text><text class="an" x="156" y="2">البعث والجزاء</text></g>
<g transform="translate(0,227.4)"><use href="#c4"/><text class="en" x="43" y="2">Paradise &amp; Hell Fire</text><text class="an" x="156" y="2">الجنة والنار</text></g>
<g transform="translate(0,238.3)"><use href="#r1"/><text class="eb" x="13" y="2">Science of Courses in the Qur’an</text><text class="ab" x="187" y="2">علم وجوه القرآن</text></g>
<g transform="translate(0,249.1)"><use href="#r2"/><text class="ei" x="23" y="2">Method of the Qur’an</text><text class="ab" x="177" y="2">أسلوب القرآن</text></g>
<g transform="translate(0,259.9)"><use href="#r3"/><text class="en" x="33" y="2">Meaning of the Qur’an</text><text class="an" x="166" y="2">معنى القرآن</text></g>
<g transform="translate(0,270.8)"><use href="#r3"/><text class="en" x="33" y="2">Articulation of the Qur’an</text><text class="an" x="166" y="2">لفظ القرآن</text></g>
<g transform="translate(0,281.6)"><use href="#r3"/><text class="en" x="33" y="2">Composition of the Qur’an</text><text class="an" x="166" y="2">نظم القرآن</text></g>
<g transform="translate(0,292.4)"><use href="#r2"/><text class="ei" x="23" y="2">Comprehension of the Qur’an</text><text class="ab" x="177" y="2">علم معارف القرآن</text></g>
<g transform="translate(0,303.2)"><use href="#r3"/><text class="en" x="33" y="2">Beliefs in the Qur’an</text><text class="an" x="166" y="2">العقائد في القرآن</text></g>
<g transform="translate(0,314.1)"><use href="#r3"/><text class="en" x="33" y="2">Law in the Qur’an</text><text class="an" x="166" y="2">الأحكام في القرآن</text></g>
<g transform="translate(0,324.9)"><use href="#r3"/><text class="en" x="33" y="2">Morals in the Qur’an</text><text class="an" x="166" y="2">الأخلاق في القرآن</text></g>
<g transform="translate(0,335.7)"><use href="#r3"/><text class="en" x="33" y="2">History in the Qur’an</text><text class="an" x="166" y="2">التاريخ في القرآن</text></g>
<g transform="translate(0,346.6)"><use href="#r2"/><text class="ei" x="23" y="2">Guidance in the Qur’an</text><text class="ab" x="177" y="2">هدايات القرآن</text></g>
<g transform="translate(0,357.4)"><use href="#r1"/><text class="eb" x="13" y="2">Names in the Qur’an</text><text class="ab" x="187" y="2">علم الأسماء في القرآن</text></g>
<g transform="translate(0,368.2)"><use href="#r2"/><text class="ei" x="23" y="2">Muqatta’at</text><text class="ab" x="177" y="2">الحروف القرآنية</text></g>
<g transform="translate(0,379.1)"><use href="#r2"/><text class="ei" x="23" y="2">Noble Names of Allah</text><text class="ab" x="177" y="2">أسماء الله الحسنى</text></g>
<g transform="translate(0,389.9)"><use href="#r3"/><text class="en" x="33" y="2">Significance of the Names</text><text class="an" x="166" y="2">دلالات أسماء الله</text></g>
<g transform="translate(0,400.7)"><use href="#r3"/><text class="en" x="33" y="2">Enumeration of the Names</text><text class="an" x="166" y="2">عد أسماء الله</text></g>
<g transform="translate(0,411.5)"><use href="#r3"/><text class="en" x="33" y="2">The Greatest Name</text><text class="an" x="166" y="2">إسم الله الأعظم</text></g>
<g transform="translate(0,422.4)"><use href="#r3"/><text class="en" x="33" y="2">Secrets of the name "Allah"</text><text class="an" x="166" y="2">أسرار لفظ الجلالة</text></g>
<g transform="translate(0,433.2)"><use href="#r2"/><text class="ei" x="23" y="2">Names of Surat &amp; Significance</text><text class="ab" x="177" y="2">السور ودلالاتها</text></g>
<g transform="translate(0,444)"><use href="#r2"/><text class="ei" x="23" y="2">Prophets in the Qur’an</text><text class="ab" x="177" y="2">الأنبياء في القرآن</text></g>
<g transform="translate(0,454.9)"><use href="#r2"/><text class="ei" x="23" y="2">Figures in the Qur’an</text><text class="ab" x="177" y="2">الأعلام في القرآن</text></g>
<g transform="translate(0,465.7)"><use href="#r3"/><text class="en" x="33" y="2">Male Figures in the Qur’an</text><text class="an" x="166" y="2">الرجال في القرآن</text></g>
<g transform="translate(0,476.5)"><use href="#r3"/><text class="en" x="33" y="2">Female Figures</text><text class="an" x="166" y="2">النساء في القرآن</text></g>
<g transform="translate(0,487.4)"><use href="#r2"/><text class="ei" x="23" y="2">Animals in the Qur’an</text><text class="ab" x="177" y="2">الحيوان في القرآن</text></g>
<g transform="translate(0,498.2)"><use href="#r2"/><text class="ei" x="23" y="2">Places in the Qur’an</text><text class="ab" x="177" y="2">البلدان في القرآن</text></g>
</g>
<g id="col6" transform="translate(1038,76)">
<g transform="translate(0,0)"><use href="#r0"/><text class="eb" x="4" y="2">Sciences of Interpretation</text><text class="ab" x="196" y="2">علوم تفسير القرآن</text></g>
<g transform="translate(0,10.8)"><use href="#r1"/><text class="eb" x="13" y="2">Sciences of Significations</text><text class="ab" x="187" y="2">علوم دلالة القرآن</text></g>
<g transform="translate(0,21.7)"><use href="#r2"/><text class="ei" x="23" y="2">Sc of Fundamentals &amp; Allegoricals</text><text class="ab" x="177" y="2">علم المحكم والمتشابه</text></g>
<g transform="translate(0,32.5)"><use href="#r3"/><text class="en" x="33" y="2">Types of Allegoricals</text><text class="an" x="166" y="2">أنواع المتشابه</text></g>
<g transform="translate(0,43.3)"><use href="#c4"/><text class="en" x="43" y="2">Verbally Allegorical</text><text class="an" x="156" y="2">المتشابه لفظا</text></g>
<g transform="translate(0,54.2)"><use href="#c4"/><text class="en" x="43" y="2">Allegorical in Meaning</text><text class="an" x="156" y="2">المتشابه معنا</text></g>
<g transform="translate(0,65)"><use href="#c4"/><text class="en" x="43" y="2">Dually Allegorical</text><text class="an" x="156" y="2">المتشابه لفظا ومعنا</text></g>
<g transform="translate(0,75.8)"><use href="#r3"/><text class="en" x="33" y="2">Categories of Allegoricals</text><text class="an" x="166" y="2">أقسام المتشابه</text></g>
<g transform="translate(0,86.6)"><use href="#c4"/><text class="en" x="43" y="2">Maintained Allegoricals</text><text class="an" x="156" y="2">المتشابه الباقي</text></g>
<g transform="translate(0,97.5)"><use href="#c4"/><text class="en" x="43" y="2">Inflected Allegoricals</text><text class="an" x="156" y="2">المتشابه غير الباقي</text></g>
<g transform="translate(0,108.3)"><use href="#r3"/><text class="en" x="33" y="2">Fundamentals</text><text class="an" x="166" y="2">المحكمات</text></g>
<g transform="translate(0,119.1)"><use href="#r2"/><text class="ei" x="23" y="2">Sc of Generals &amp; Specifics</text><text class="ab" x="177" y="2">علم العام والخاص</text></g>
<g transform="translate(0,130)"><use href="#r3"/><text class="en" x="33" y="2">Categories of Generals</text><text class="an" x="166" y="2">أقسام العام</text></g>
<g transform="translate(0,140.8)"><use href="#c4"/><text class="en" x="43" y="2">Non-Specialized</text><text class="an" x="156" y="2">باق على عمومه</text></g>
<g transform="translate(0,151.6)"><use href="#c4"/><text class="en" x="43" y="2">Specifically Intended</text><text class="an" x="156" y="2">مراد به الخصوص</text></g>
<g transform="translate(0,162.5)"><use href="#c4"/><text class="en" x="43" y="2">Specialized</text><text class="an" x="156" y="2">مخصوص</text></g>
<g transform="translate(0,173.3)"><use href="#r3"/><text class="en" x="33" y="2">Categories of Specifics</text><text class="an" x="166" y="2">أقسام الخاص</text></g>
<g transform="translate(0,184.1)"><use href="#c4"/><text class="en" x="43" y="2">Attached</text><text class="an" x="156" y="2">المتصل</text></g>
<g transform="translate(0,194.9)"><use href="#c4"/><text class="en" x="43" y="2">Separated</text><text class="an" x="156" y="2">المنفصل</text></g>
<g transform="translate(0,205.8)"><use href="#r2"/><text class="ei" x="23" y="2">Sc of the Concise/the Expounded</text><text class="ab" x="177" y="2">علم المجمل والمبين</text></g>
<g transform="translate(0,216.6)"><use href="#r3"/><text class="en" x="33" y="2">Motifs of Summarization</text><text class="an" x="166" y="2">أسباب الإجمال</text></g>
<g transform="translate(0,227.4)"><use href="#r3"/><text class="en" x="33" y="2">Types of Illustrations</text><text class="an" x="166" y="2">أنواع البيان</text></g>
<g transform="translate(0,238.3)"><use href="#r2"/><text class="ei" x="23" y="2">Sc of Absolutes &amp; Confined</text><text class="ab" x="177" y="2">علم المطلق والمقيد</text></g>
<g transform="translate(0,249.1)"><use href="#r2"/><text class="ei" x="23" y="2">Sc of Literals &amp; Connotations</text><text class="ab" x="177" y="2">علم المنطوق والمفهوم</text></g>
<g transform="translate(0,259.9)"><use href="#r3"/><text class="en" x="33" y="2">Accordance in Connotation</text><text class="an" x="166" y="2">مفهوم الموافقة</text></g>
<g transform="translate(0,270.8)"><use href="#r3"/><text class="en" x="33" y="2">Disagreement in Connotation</text><text class="an" x="166" y="2">مفهوم المخالفة</text></g>
<g transform="translate(0,281.6)"><use href="#r1"/><text class="eb" x="13" y="2">Sciences of Abrogations</text><text class="ab" x="187" y="2">علم الناسخ والمنسوخ</text></g>
<g transform="translate(0,292.4)"><use href="#r2"/><text class="ei" x="23" y="2">Categories of Abrogation</text><text class="ab" x="177" y="2">أقسام النسخ</text></g>
<g transform="translate(0,303.2)"><use href="#r3"/><text class="en" x="33" y="2">Non Ruling</text><text class="an" x="166" y="2">ما لم يبدل</text></g>
<g transform="translate(0,314.1)"><use href="#r3"/><text class="en" x="33" y="2">Pre-Islam Abrogation</text><text class="an" x="166" y="2">نسخ شرع ما قبلنا</text></g>
<g transform="translate(0,324.9)"><use href="#r3"/><text class="en" x="33" y="2">by Absence of Cause</text><text class="an" x="166" y="2">نسخ لزوال الأسباب</text></g>
<g transform="translate(0,335.7)"><use href="#r2"/><text class="ei" x="23" y="2">Types of Abrogations</text><text class="ab" x="177" y="2">أنواع النسخ</text></g>
<g transform="translate(0,346.6)"><use href="#r3"/><text class="en" x="33" y="2">Abrogated in Ruling</text><text class="an" x="166" y="2">المنسوخ حكما</text></g>
<g transform="translate(0,357.4)"><use href="#r3"/><text class="en" x="33" y="2">Abrogated in Recitation</text><text class="an" x="166" y="2">المنسوخ تلاوة</text></g>
<g transform="translate(0,368.2)"><use href="#r3"/><text class="en" x="33" y="2">Dually Abrogated</text><text class="an" x="166" y="2">المنسوخ حكما وتلاوة</text></g>
<g transform="translate(0,379.1)"><use href="#r1"/><text class="eb" x="13" y="2">Sciences of the Exegetor</text><text class="ab" x="187" y="2">علوم المفسر</text></g>
<g transform="translate(0,389.9)"><use href="#r2"/><text class="ei" x="23" y="2">Aspects of Tafsir</text><text class="ab" x="177" y="2">أوجه التفسير</text></g>
<g transform="translate(0,400.7)"><use href="#r3"/><text class="en" x="33" y="2">Outward Aspect</text><text class="an" x="166" y="2">الوجه الظاهر</text></g>
<g transform="translate(0,411.5)"><use href="#r3"/><text class="en" x="33" y="2">Linguistic Aspect</text><text class="an" x="166" y="2">الوجه الغريب</text></g>
<g transform="translate(0,422.4)"><use href="#r3"/><text class="en" x="33" y="2">Specialized Aspect</text><text class="an" x="166" y="2">الوجه المشكل</text></g>
<g transform="translate(0,433.2)"><use href="#r3"/><text class="en" x="33" y="2">Concealed Aspect</text><text class="an" x="166" y="2">الوجه الخفي</text></g>
<g transform="translate(0,444)"><use href="#r2"/><text class="ei" x="23" y="2">Sc of Stratification of Exegetes</text><text class="ab" x="177" y="2">علم طبقات المفسرين</text></g>
<g transform="translate(0,454.9)"><use href="#r3"/><text class="en" x="33" y="2">Stratification of Sahaba</text><text class="an" x="166" y="2">طرق تفسير الصحابة</text></g>
<g transform="translate(0,465.7)"><use href="#r3"/><text class="en" x="33" y="2">Stratification of Tabi’in</text><text class="an" x="166" y="2">طرق تفسير التابعين</text></g>
<g transform="translate(0,476.5)"><use href="#r3"/><text class="en" x="33" y="2">Stratification of Exegetists</text><text class="an" x="166" y="2">طبقات المفسرين</text></g>
<g transform="translate(0,487.4)"><use href="#r2"/><text class="ei" x="23" y="2">Stipulations for Exegesis</text><text class="ab" x="177" y="2">شرائط المفسر</text></g>
<g transform="translate(0,498.2)"><use href="#r3"/><text class="en" x="33" y="2">Proprieties of Exegetists</text><text class="an" x="166" y="2">آداب المفسر</text></g>
<g transform="translate(0,509)"><use href="#r3"/><text class="en" x="33" y="2">Requirement of Exegetists</text><text class="an" x="166" y="2">مؤهلات المفسر</text></g>
<g transform="translate(0,519.8)"><use href="#c4"/><text class="en" x="43" y="2">Rules of Tafsir</text><text class="an" x="156" y="2">قواعد التفسير</text></g>
<g transform="translate(0,530.7)"><use href="#c4"/><text class="en" x="43" y="2">Conditions of Tafsir</text><text class="an" x="156" y="2">شروط التفسير</text></g>
<g transform="translate(0,541.5)"><use href="#r1"/><text class="eb" x="13" y="2">Sc of Methodology of Tafsir</text><text class="ab" x="187" y="2">علم مناهج التفسير</text></g>
<g transform="translate(0,552.3)"><use href="#r2"/><text class="ei" x="23" y="2">Tafsir by Transmission</text><text class="ab" x="177" y="2">التفسير المأثور</text></g>
<g transform="translate(0,563.2)"><use href="#r2"/><text class="ei" x="23" y="2">Tafsir by Knowledge</text><text class="ab" x="177" y="2">التفسير المعقول</text></g>
<g transform="translate(0,574)"><use href="#r3"/><text class="en" x="33" y="2">Admissible Opinion</text><text class="an" x="166" y="2">الفكر الجائز</text></g>
<g transform="translate(0,584.8)"><use href="#r3"/><text class="en" x="33" y="2">Excluded Opinion</text><text class="an" x="166" y="2">الفكر المحظور</text></g>
<g transform="translate(0,595.7)"><use href="#r2"/><text class="ei" x="23" y="2">Tafsir by Indication</text><text class="ab" x="177" y="2">التفسير الإشاري</text></g>
<g transform="translate(0,606.5)"><use href="#r2"/><text class="ei" x="23" y="2">Globalized Tafsir</text><text class="ab" x="177" y="2">التفسير العام</text></g>
<g transform="translate(0,617.3)"><use href="#r2"/><text class="ei" x="23" y="2">Topical Tafsir</text><text class="ab" x="177" y="2">التفسير الموضوعي</text></g>
<g transform="translate(0,628.1)"><use href="#r3"/><text class="en" x="33" y="2">Its Categories</text><text class="an" x="166" y="2">أقسامه</text></g>
<g transform="translate(0,639)"><use href="#r3"/><text class="en" x="33" y="2">Argumentative Tafsir</text><text class="an" x="166" y="2">التفسير بالجدل</text></g>
<g transform="translate(0,649.8)"><use href="#r3"/><text class="en" x="33" y="2">Tafsir by Accords</text><text class="an" x="166" y="2">التفسير بالأمثال</text></g>
<g transform="translate(0,660.6)"><use href="#r3"/><text class="en" x="33" y="2">Juristic Tafsir</text><text class="an" x="166" y="2">التفسير الفقهي</text></g>
<g transform="translate(0,671.5)"><use href="#r2"/><text class="ei" x="23" y="2">Linguistic Tafsir</text><text class="ab" x="177" y="2">التفسير اللغوي</text></g>
<g transform="translate(0,682.3)"><use href="#r3"/><text class="en" x="33" y="2">Outlined Tafsir</text><text class="an" x="166" y="2">التفسير الإجمالي</text></g>
<g transform="translate(0,693.1)"><use href="#r3"/><text class="en" x="33" y="2">Analytic Tafsir</text><text class="an" x="166" y="2">التفسير التحليلي</text></g>
<g transform="translate(0,704)"><use href="#r1"/><text class="eb" x="13" y="2">Sciences of - figurative - Interpretation</text><text class="ab" x="187" y="2">علم تأويل القرآن</text></g>
<g transform="translate(0,714.8)"><use href="#r2"/><text class="ei" x="23" y="2">Outlined figurative Interpretation</text><text class="ab" x="177" y="2">التأويل الإجمالي</text></g>
<g transform="translate(0,725.6)"><use href="#r3"/><text class="en" x="33" y="2">Displacements</text><text class="an" x="166" y="2">التأويل بالصرف</text></g>
<g transform="translate(0,736.4)"><use href="#r3"/><text class="en" x="33" y="2">Impeccabilities</text><text class="an" x="166" y="2">التأويل بالتنزيه</text></g>
<g transform="translate(0,747.3)"><use href="#r2"/><text class="ei" x="23" y="2">Elaborated figurative Interpretation</text><text class="ab" x="177" y="2">التأويل التفصيلي</text></g>
<g transform="translate(0,758.1)"><use href="#r3"/><text class="en" x="33" y="2">Substitutions</text><text class="an" x="166" y="2">التأويل بالتعويض</text></g>
<g transform="translate(0,768.9)"><use href="#r3"/><text class="en" x="33" y="2">Eductions</text><text class="an" x="166" y="2">التأويل بالاستنباط</text></g>
</g>
<g id="texture">
<rect class="grid" x="135" y="126" width="95" height="680"/>
<rect class="grid" x="335" y="102" width="95" height="728"/>
<rect class="grid" x="536" y="158" width="95" height="586"/>
<rect class="grid" x="737" y="201" width="95" height="478"/>
<rect class="grid" x="938" y="178" width="95" height="511"/>
<rect class="grid" x="1138" y="71.5" width="95" height="780"/>
</g>
</svg>
